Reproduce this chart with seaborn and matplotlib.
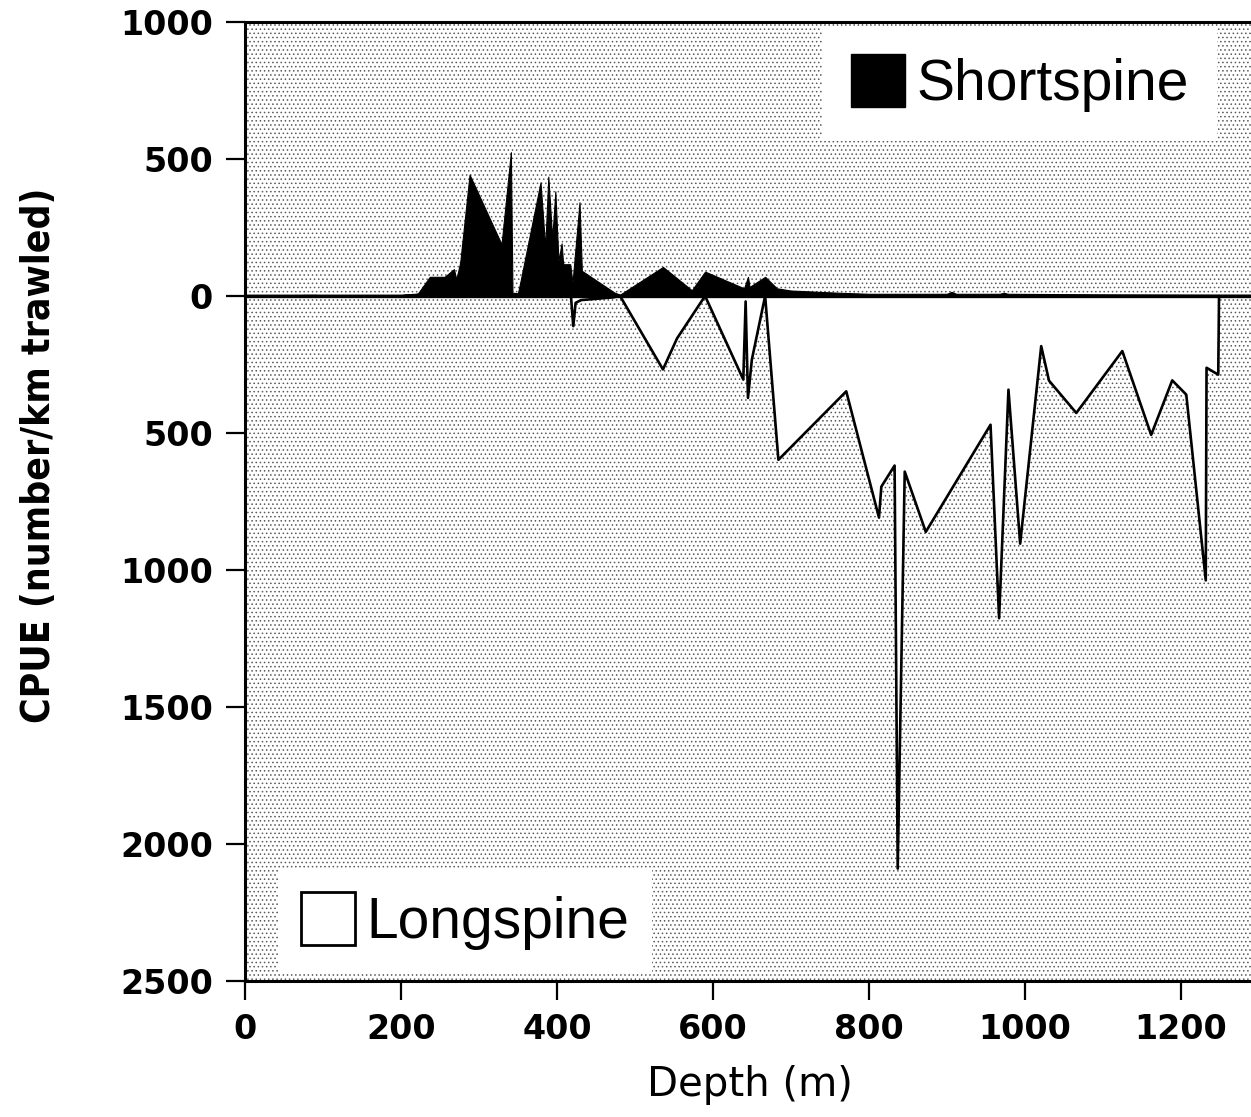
import numpy as np
import pandas as pd
import matplotlib
matplotlib.use("Agg")
import matplotlib.pyplot as plt
from matplotlib.patches import Patch, Rectangle
from matplotlib.ticker import FuncFormatter
import seaborn as sns

# Shortspine thornyhead catch per unit effort by depth (plotted upward)
short_depth = [0, 60, 75, 92, 100, 195, 205, 218, 222, 237, 256, 268, 271, 276,
               288, 329, 341, 343, 350, 353, 379, 385, 389, 394, 398, 402, 406,
               408, 417, 420, 429, 432, 474, 481, 536, 573, 590, 640, 645, 647,
               667, 682, 700, 760, 800, 900, 906, 912, 968, 973, 978, 1100, 1250, 1290]
short_cpue = [0, 0, 4, 4, 0, 0, 6, 8, 10, 70, 70, 98, 61, 122,
              443, 189, 525, 12, 10, 49, 415, 177, 436, 208, 382, 128, 192,
              116, 116, 49, 342, 92, 12, 5, 106, 21, 89, 28, 70, 33,
              70, 28, 20, 12, 8, 8, 15, 8, 8, 12, 8, 6, 5, 5]

# Longspine thornyhead catch per unit effort by depth (plotted downward)
long_depth = [0, 418, 421, 424, 431, 472, 481, 536, 554, 590, 639, 642, 645, 650,
              667, 684, 771, 813, 816, 833, 837, 846, 873, 956, 967, 979, 994,
              1021, 1031, 1066, 1125, 1162, 1189, 1207, 1232, 1233, 1248, 1249]
long_cpue = [0, 0, 110, 25, 15, 5, 0, 268, 155, 0, 305, 20, 372, 232,
             0, 598, 348, 809, 696, 619, 2090, 641, 861, 470, 1176, 342, 904,
             183, 309, 427, 201, 507, 308, 360, 1038, 262, 287, 0]

x_ticks = [0, 200, 400, 600, 800, 1000, 1200]
y_ticks = [1000, 500, 0, -500, -1000, -1500, -2000, -2500]

short_df = pd.DataFrame({"depth": short_depth, "cpue": short_cpue})
long_df = pd.DataFrame({"depth": long_depth, "cpue": -np.asarray(long_cpue)})

sns.set_theme(style="white")
plt.rcParams["font.family"] = ["DejaVu Sans"]
plt.rcParams["hatch.linewidth"] = 0.6
plt.rcParams["hatch.color"] = "#5a5a5a"
plt.rcParams["text.color"] = "black"
plt.rcParams["axes.labelcolor"] = "black"
plt.rcParams["xtick.color"] = "black"
plt.rcParams["ytick.color"] = "black"

fig = plt.figure(figsize=(12.51, 11.17), dpi=100)
ax = fig.add_axes([0.1958, 0.1218, 0.8042, 0.8585])

# stippled background of the plotting area
bg = Rectangle((0, 0), 1, 1, transform=ax.transAxes, facecolor="white",
               edgecolor="#5a5a5a", hatch="....", linewidth=0, zorder=0)
ax.add_patch(bg)

# filled profiles
ax.fill_between(short_df["depth"], 0, short_df["cpue"], facecolor="black",
                edgecolor="black", linewidth=0.8, zorder=3)
ax.fill_between(long_df["depth"], 0, long_df["cpue"], facecolor="white",
                linewidth=0, zorder=2)
sns.lineplot(data=long_df, x="depth", y="cpue", estimator=None, sort=False,
             color="black", linewidth=1.9, ax=ax, zorder=4)
ax.axhline(0, color="black", linewidth=2.4, zorder=5)

ax.set_xlim(0, 1290)
ax.set_ylim(-2500, 1000)
ax.set_xticks(x_ticks)
ax.set_yticks(y_ticks)
ax.yaxis.set_major_formatter(FuncFormatter(lambda v, p: f"{abs(int(round(v)))}"))
ax.tick_params(axis="both", direction="out", length=14, width=1.6,
               labelsize=24, pad=9, left=True, bottom=True, colors="black")
for lab in ax.get_xticklabels() + ax.get_yticklabels():
    lab.set_fontweight("bold")

for side in ("left", "bottom", "top"):
    ax.spines[side].set_visible(True)
    ax.spines[side].set_color("black")
    ax.spines[side].set_linewidth(2.2)
ax.spines["right"].set_visible(False)

ax.set_xlabel("Depth (m)", fontsize=29, va="center")
ax.xaxis.set_label_coords(0.502, -0.108)
ax.set_ylabel("CPUE (number/km trawled)", fontsize=28, va="center",
              family="DejaVu Sans", fontstretch="condensed", fontweight="bold")
ax.yaxis.set_label_coords(-0.205, 0.548)

legend_font = {"family": "Liberation Sans", "size": 41}
leg1 = ax.legend(handles=[Patch(facecolor="black", edgecolor="black", label="Shortspine")],
                 loc="center", bbox_to_anchor=(0.770, 0.936), prop=legend_font,
                 handlelength=0.95, handleheight=1.05, handletextpad=0.2,
                 frameon=True, fancybox=False, framealpha=1, borderpad=0.5)
leg1.get_frame().set_facecolor("white")
leg1.get_frame().set_linewidth(0)
leg1.set_zorder(6)
ax.add_artist(leg1)

leg2 = ax.legend(handles=[Patch(facecolor="white", edgecolor="black", linewidth=2.0, label="Longspine")],
                 loc="center", bbox_to_anchor=(0.219, 0.0626), prop=legend_font,
                 handlelength=0.95, handleheight=1.05, handletextpad=0.2,
                 frameon=True, fancybox=False, framealpha=1, borderpad=0.4)
leg2.get_frame().set_facecolor("white")
leg2.get_frame().set_linewidth(0)
leg2.set_zorder(6)

fig.savefig("out.png", dpi=100)
